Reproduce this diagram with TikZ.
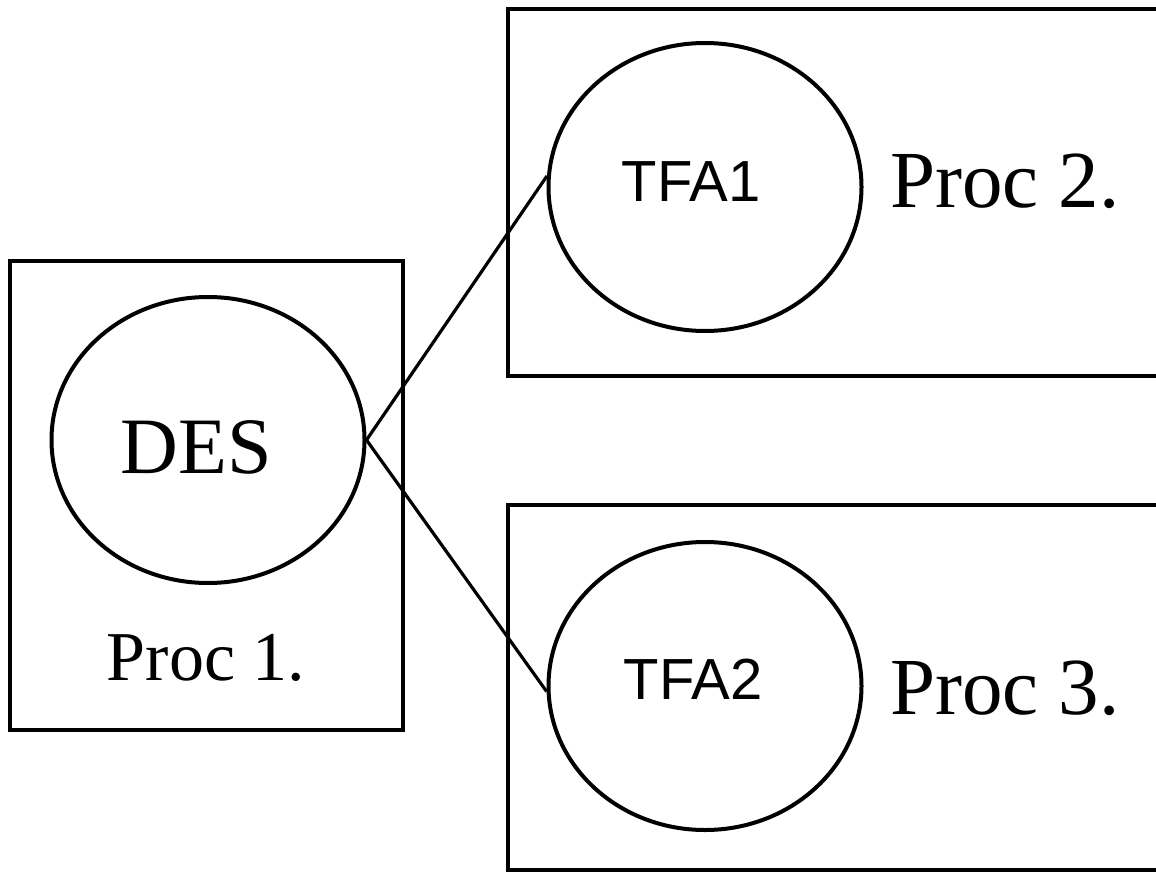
\documentclass[tikz,border=0pt]{standalone}
\usepackage{fontspec}
\setmainfont{Liberation Serif}
\newfontfamily\tfafont{Liberation Sans}
\usetikzlibrary{shapes.geometric}
\usetikzlibrary{positioning}

\tikzset{
  procbox/.style={draw, line width=2pt},
  procell/.style={draw, ellipse, line width=2pt, inner sep=0pt, minimum width=156.5pt, minimum height=144pt},
  link/.style={line width=1.6pt}
}

\begin{document}
\begin{tikzpicture}[x=0.5pt, y=-0.5pt]
            \useasboundingbox (0,0) rectangle (1156,872);
            % process boxes
            \draw[procbox] (10,261) rectangle (403,730);
            \draw[procbox] (508,9) rectangle (1175,376);
            \draw[procbox] (508,505) rectangle (1175,870);

            \node[procell, minimum height=143pt] (des) at (208,440) {};
            \node[procell] (tfa1) at (705,187) {};
            \node[procell] (tfa2) at (705,686) {};

            \node[anchor=base, font=\fontsize{40pt}{44pt}\selectfont] (destxt) at (196,473) {DES};
            \node[anchor=base, font=\tfafont\fontsize{29pt}{32pt}\selectfont] (tfa1txt) at (691,201) {TFA1};
            \node[anchor=base, font=\tfafont\fontsize{29pt}{32pt}\selectfont] (tfa2txt) at (693,699) {TFA2};

            \node[anchor=base, font=\fontsize{35pt}{40pt}\selectfont] (proc1) at (206,680) {Proc 1.};
            \node[anchor=base, font=\fontsize{40.5pt}{45pt}\selectfont] (proc2) at (1005,207) {Proc 2.};
            \node[anchor=base, font=\fontsize{40.5pt}{45pt}\selectfont] (proc3) at (1005,714) {Proc 3.};

            \draw[link] (des.east) -- (tfa1.176);
            \draw[link] (des.east) -- (tfa2.182);
        \end{tikzpicture}
\end{document}
